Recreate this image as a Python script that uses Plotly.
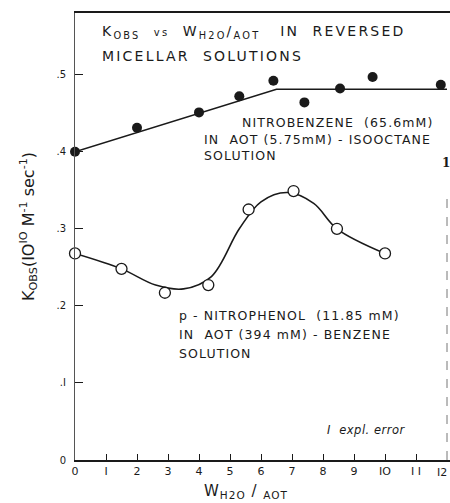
import plotly.graph_objects as go

# Nitrobenzene in AOT-isooctane (filled circles)
nb_x = [0, 2, 4, 5.3, 6.4, 7.4, 8.55, 9.6, 11.8]
nb_y = [0.400, 0.431, 0.451, 0.472, 0.492, 0.464, 0.482, 0.497, 0.487]
# hand-drawn fitted line in the original
nb_fit_x = [0, 6.5, 12]
nb_fit_y = [0.400, 0.481, 0.481]

# p-Nitrophenol in AOT-benzene (open circles)
np_x = [0, 1.5, 2.9, 4.3, 5.6, 7.05, 8.45, 10.0]
np_y = [0.268, 0.248, 0.217, 0.227, 0.325, 0.349, 0.300, 0.268]
# smooth curve knots
np_fit_x = [0, 1.5, 2.6, 3.5, 4.4, 5.3, 6.0, 6.85, 7.7, 8.45, 10.0]
np_fit_y = [0.268, 0.248, 0.227, 0.222, 0.238, 0.300, 0.335, 0.347, 0.333, 0.300, 0.268]

x_ticks = list(range(0, 12))
x_ticktext = ["0", "I", "2", "3", "4", "5", "6", "7", "8", "9", "IO", "I I"]
y_ticks = [0, 0.1, 0.2, 0.3, 0.4, 0.5]
y_ticktext = ["0", ".I", ".2", ".3", ".4", ".5"]

FONT = "DejaVu Sans"
INK = "#1a1a1a"

# pixel geometry of the plot area
L, R, T, B = 75, 450, 13, 460
XS = 31.0     # px per x unit
YS = 770.7    # px per y unit

def xp(px):
    return (px - L) / (R - L)

def yp(py):
    return (B - py) / (B - T)

fig = go.Figure()
fig.add_trace(go.Scatter(x=nb_fit_x, y=nb_fit_y, mode="lines", cliponaxis=False,
                         line=dict(color=INK, width=1.6), hoverinfo="skip"))
fig.add_trace(go.Scatter(x=nb_x, y=nb_y, mode="markers", cliponaxis=False,
                         marker=dict(size=10, color=INK, line=dict(width=0))))
fig.add_trace(go.Scatter(x=np_fit_x, y=np_fit_y, mode="lines", cliponaxis=False,
                         line=dict(color=INK, width=1.6, shape="spline", smoothing=1.0),
                         hoverinfo="skip"))
fig.add_trace(go.Scatter(x=np_x, y=np_y, mode="markers", cliponaxis=False,
                         marker=dict(size=11, color="white", line=dict(width=1.3, color=INK))))

ann = []
def add(text, px, py, size=13, xanchor="left", ls=1.2, family=FONT, **kw):
    ann.append(dict(text=f"<span style='letter-spacing:{ls}px'>{text}</span>",
                    x=xp(px), y=yp(py), xref="paper", yref="paper",
                    xanchor=xanchor, yanchor="middle", showarrow=False,
                    font=dict(family=family, size=size, color=INK), **kw))

add("K<sub>OBS</sub>  <span style='font-size:10px'>vs</span>  W<sub>H2O</sub>/<sub>AOT</sub>   IN  REVERSED",
    100, 32, size=14, ls=2.2)
add("MICELLAR  SOLUTIONS", 100, 56, size=14, ls=2.2)
add("NITROBENZENE  (65.6mM)", 240, 122, size=12.5, ls=1.1)
add("IN  AOT (5.75mM) - ISOOCTANE", 202, 139, size=12.5, ls=1.1)
add("SOLUTION", 202, 155, size=12.5, ls=1.1)
add("p - NITROPHENOL  (11.85 mM)", 177, 315, size=12.5, ls=1.1)
add("IN  AOT (394 mM) - BENZENE", 177, 334, size=12.5, ls=1.1)
add("SOLUTION", 177, 353, size=12.5, ls=1.1)
add("<i>I  expl. error</i>", 325, 430, size=11.5, ls=0.5)
add("<b>1</b>", 446, 163, size=12, xanchor="center", ls=0, family="DejaVu Serif")
add("I2", 449, 472, size=11, xanchor="right", ls=0)
add("W<sub>H2O</sub> / <sub>AOT</sub>", 246, 491, size=15, xanchor="center", ls=1)

# y-axis title
ann.append(dict(text="K<sub>OBS</sub>(IO<sup>IO</sup> M<sup>-1</sup> sec<sup>-1</sup>)",
                x=xp(28), y=yp(227), xref="paper", yref="paper",
                xanchor="center", yanchor="middle", showarrow=False, textangle=-90,
                font=dict(family=FONT, size=16, color=INK)))

shapes = [
    # partial right frame
    dict(type="line", xref="paper", yref="paper", x0=xp(447), x1=xp(447), y0=0, y1=yp(190),
         line=dict(color="#777", width=1, dash="dash")),
]

fig.update_layout(
    width=450, height=503,
    margin=dict(l=L, r=450 - R, t=T, b=503 - B, pad=0),
    paper_bgcolor="white", plot_bgcolor="white",
    showlegend=False,
    annotations=ann, shapes=shapes,
    font=dict(family=FONT, color=INK),
    xaxis=dict(range=[0, (R - L) / XS], tickvals=x_ticks, ticktext=x_ticktext,
               ticks="inside", ticklen=6, tickcolor=INK, tickwidth=1,
               showline=True, linecolor=INK, linewidth=1.5, mirror=True,
               showgrid=False, zeroline=False,
               tickfont=dict(family=FONT, size=11, color=INK)),
    yaxis=dict(range=[0, (B - T) / YS], tickvals=y_ticks, ticktext=y_ticktext,
               ticks="inside", ticklen=8, tickcolor=INK, tickwidth=1,
               showline=True, linecolor="#555", linewidth=1,
               showgrid=False, zeroline=False, ticklabelstandoff=6,
               tickfont=dict(family=FONT, size=10, color=INK)),
)

fig.write_html("out.html")
